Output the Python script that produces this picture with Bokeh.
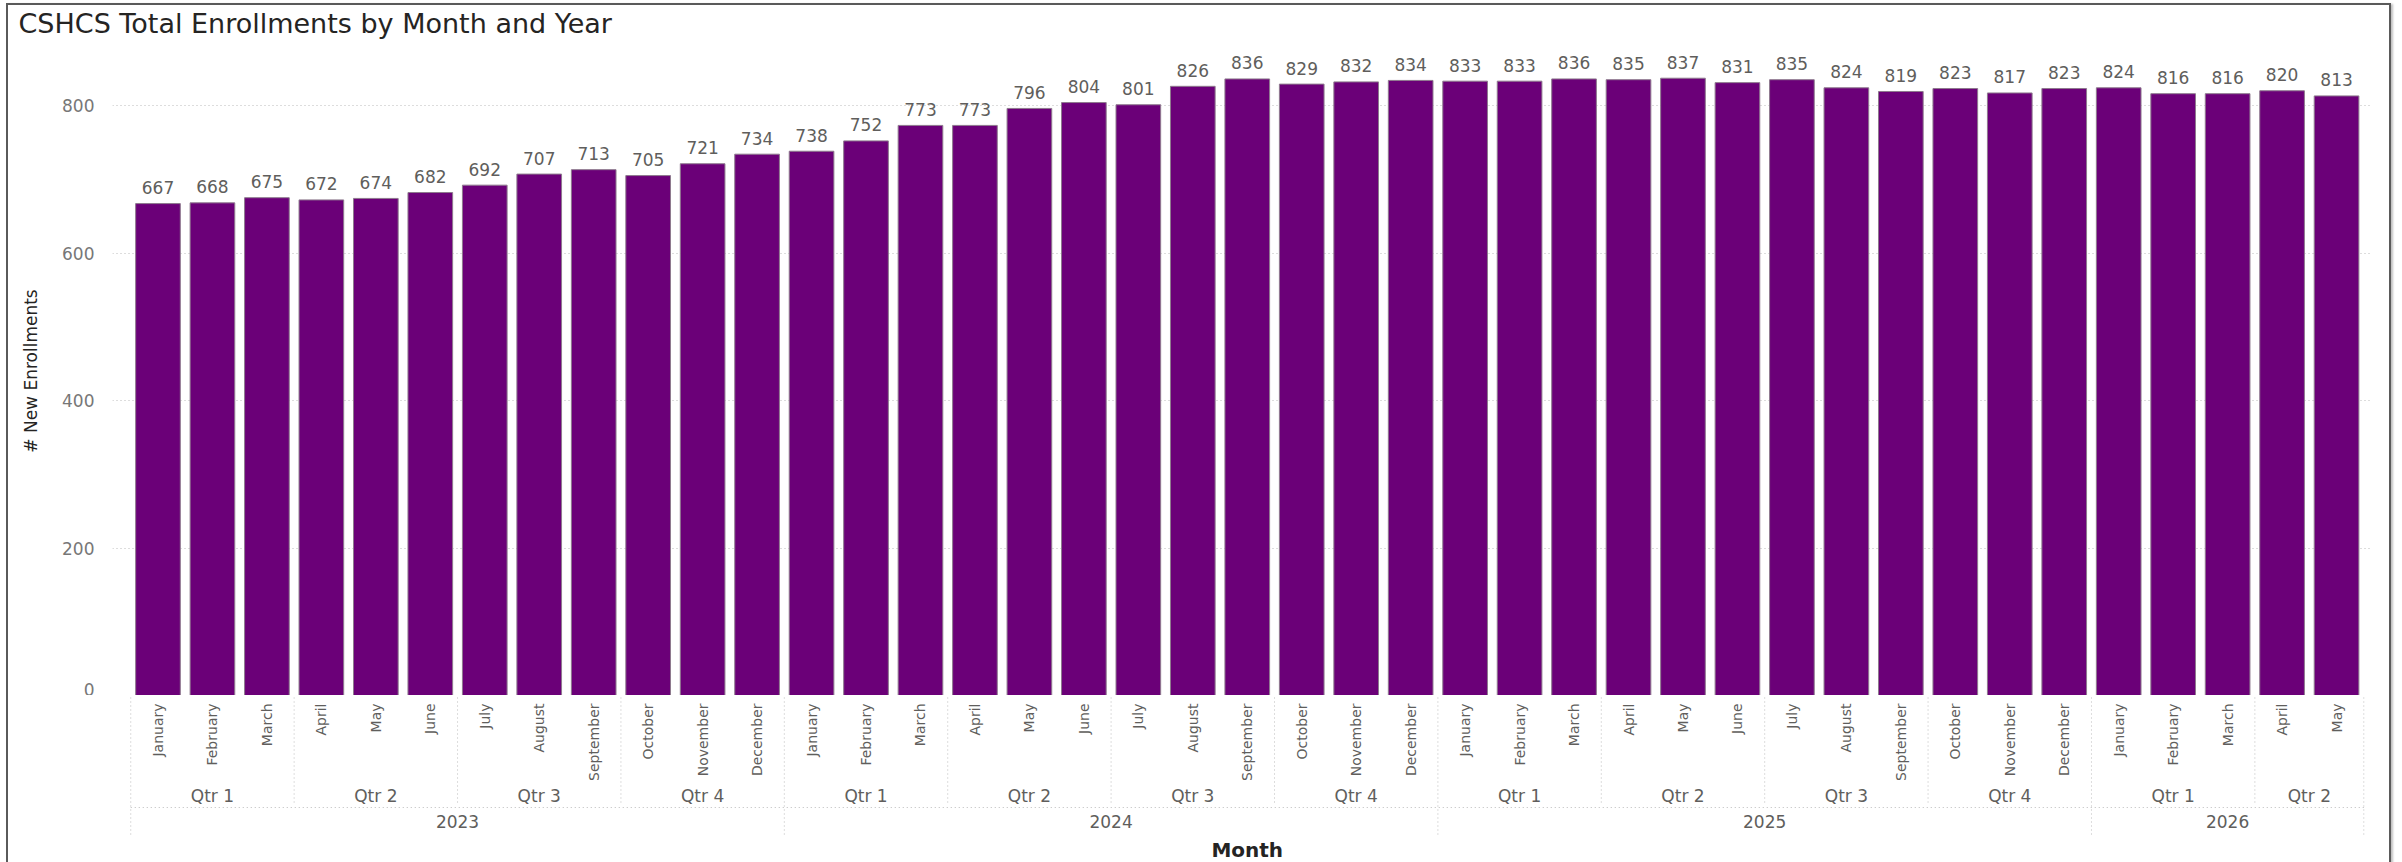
from math import pi
from bokeh.plotting import figure
from bokeh.layouts import column
from bokeh.models import Range1d, FixedTicker
from bokeh.core.properties import value
from bokeh.embed import file_html
from bokeh.resources import INLINE

# ---------------- data ----------------
years = [2023] * 12 + [2024] * 12 + [2025] * 12 + [2026] * 5
quarters = (["Qtr 1"] * 3 + ["Qtr 2"] * 3 + ["Qtr 3"] * 3 + ["Qtr 4"] * 3) * 3 + ["Qtr 1"] * 3 + ["Qtr 2"] * 2
month_names = ["January", "February", "March", "April", "May", "June",
               "July", "August", "September", "October", "November", "December"]
months = month_names * 3 + month_names[:5]
enrollments = [667, 668, 675, 672, 674, 682, 692, 707, 713, 705, 721, 734,
               738, 752, 773, 773, 796, 804, 801, 826, 836, 829, 832, 834,
               833, 833, 836, 835, 837, 831, 835, 824, 819, 823, 817, 823,
               824, 816, 816, 820, 813]
y_ticks = [0, 200, 400, 600, 800]

title_text = "CSHCS Total Enrollments by Month and Year"
y_title = "# New Enrollments"
x_title = "Month"

# ---------------- style ----------------
FONT = "DejaVu Sans"
W = 2381
LEFT = 104
RIGHT = 17
BAR = "#6b0078"
BAR_EDGE = "#8e7a8e"
GRID = "#bbbbbb"
LABEL = "#605e5c"
DARK = "#252423"

n = len(months)
idx = list(range(n))
x_range = Range1d(-0.835, n - 1 + 0.66)

# ---------------- title strip ----------------
pT = figure(width=W, height=41, toolbar_location=None, output_backend="svg",
            x_axis_location=None, y_axis_location=None, min_border=0,
            min_border_left=LEFT, min_border_right=RIGHT,
            outline_line_color=None, title=title_text)
pT.grid.visible = False
pT.title.align = "left"
pT.title.vertical_align = "top"
pT.title.offset = -94
pT.title.standoff = 5
pT.title.text_font = FONT
pT.title.text_font_size = "27px"
pT.title.text_font_style = "normal"
pT.title.text_color = DARK

# ---------------- bars ----------------
pA = figure(width=W, height=649, x_range=x_range, y_range=Range1d(0, 880),
            toolbar_location=None, output_backend="svg", x_axis_location=None,
            min_border_left=LEFT, min_border_right=RIGHT, min_border_top=0,
            min_border_bottom=0, outline_line_color=None)
pA.vbar(x=idx, top=enrollments, width=0.82, fill_color=BAR,
        line_color=BAR_EDGE, line_width=1)
pA.text(x=idx, y=enrollments, text=[str(v) for v in enrollments],
        text_align="center", text_baseline="alphabetic", y_offset=-16,
        text_font=value(FONT), text_font_size="17px", text_color=LABEL)

pA.xgrid.visible = False
pA.ygrid.grid_line_color = GRID
pA.ygrid.grid_line_dash = "1 3"
pA.ygrid.grid_line_width = 1

ya = pA.yaxis[0]
ya.ticker = FixedTicker(ticks=y_ticks)
ya.axis_line_color = None
ya.major_tick_line_color = None
ya.minor_tick_line_color = None
ya.major_tick_out = 0
ya.major_tick_in = 0
ya.major_label_standoff = 18
ya.major_label_text_font = FONT
ya.major_label_text_font_size = "17px"
ya.major_label_text_color = "#777777"
ya.axis_label = y_title
ya.axis_label_text_font = FONT
ya.axis_label_text_font_size = "17px"
ya.axis_label_text_font_style = "normal"
ya.axis_label_text_color = DARK
ya.axis_label_standoff = 18

# ---------------- hierarchical category axis ----------------
pB = figure(width=W, height=170, x_range=x_range, y_range=Range1d(170, 0),
            toolbar_location=None, output_backend="svg",
            x_axis_location=None, y_axis_location=None,
            min_border_left=LEFT, min_border_right=RIGHT, min_border_top=0,
            min_border_bottom=0, outline_line_color=None)
pB.grid.visible = False


def runs(keys):
    out = []
    start = 0
    for i in range(1, len(keys) + 1):
        if i == len(keys) or keys[i] != keys[start]:
            out.append((start, i - 1, keys[start]))
            start = i
    return out


q_runs = runs(list(zip(years, quarters)))
yr_runs = runs(years)

# month labels (vertical)
pB.text(x=idx, y=[8] * n, text=months, angle=pi / 2, text_align="right",
        text_baseline="middle", text_font=value(FONT), text_font_size="14px",
        text_color=LABEL)

# quarter labels
pB.text(x=[(s + e) / 2 for s, e, _ in q_runs], y=[100] * len(q_runs),
        text=[k[1] for _, _, k in q_runs], text_align="center",
        text_baseline="middle", text_font=value(FONT), text_font_size="17px",
        text_color=LABEL)

# year labels
pB.text(x=[(s + e) / 2 for s, e, _ in yr_runs], y=[126] * len(yr_runs),
        text=[str(k) for _, _, k in yr_runs], text_align="center",
        text_baseline="middle", text_font=value(FONT), text_font_size="17px",
        text_color=LABEL)

# separators
q_edges = [s - 0.5 for s, _, _ in q_runs] + [q_runs[-1][1] + 0.5]
yr_edges = [s - 0.5 for s, _, _ in yr_runs] + [yr_runs[-1][1] + 0.5]
pB.segment(x0=q_edges, y0=[2] * len(q_edges), x1=q_edges, y1=[110] * len(q_edges),
           line_color=GRID, line_dash="1 3", line_width=1)
pB.segment(x0=yr_edges, y0=[110] * len(yr_edges), x1=yr_edges, y1=[140] * len(yr_edges),
           line_color=GRID, line_dash="1 3", line_width=1)
pB.segment(x0=[-0.5], y0=[112], x1=[n - 0.5], y1=[112],
           line_color=GRID, line_dash="1 3", line_width=1)

# x axis title
pB.text(x=[(n - 1) / 2], y=[154], text=[x_title], text_align="center",
        text_baseline="middle", text_font=value(FONT), text_font_size="20px",
        text_font_style="bold", text_color=DARK)

layout = column(pT, pA, pB, styles={
    "border": "2px solid #5a5a5a",
    "box-sizing": "content-box",
    "margin-top": "3px",
    "margin-left": "6px",
    "box-shadow": "2px 1px 2px rgba(0,0,0,0.25)",
})

open("out.html", "w").write(file_html(layout, INLINE))
